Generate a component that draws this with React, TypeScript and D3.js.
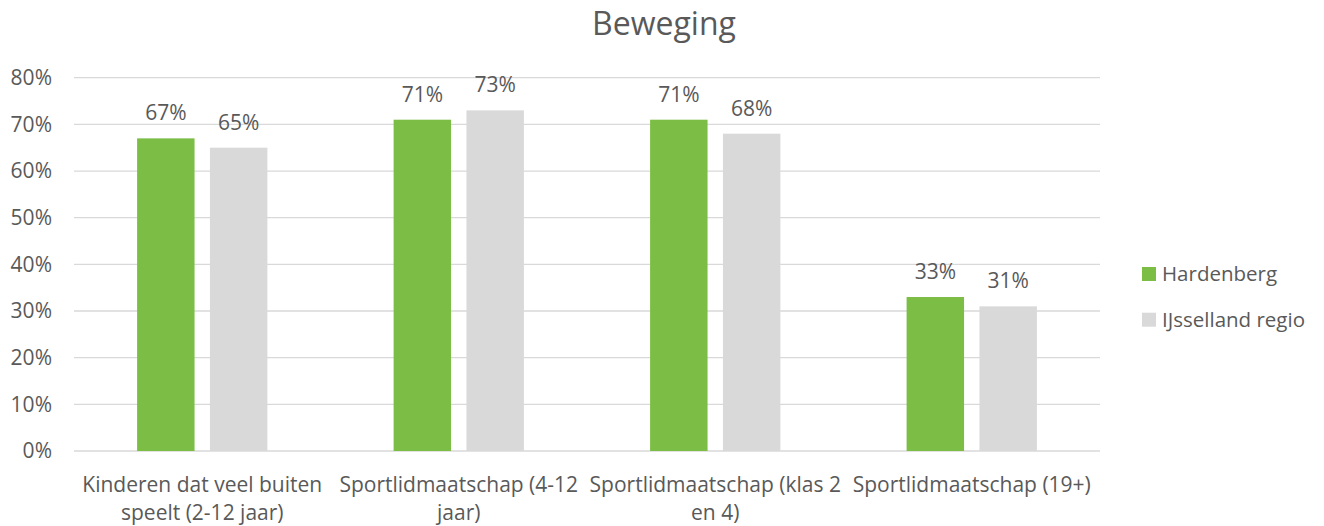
import React from "react";
import * as d3 from "d3";

const title = "Beweging";
const categories = [
  ["Kinderen dat veel buiten", "speelt (2-12 jaar)"],
  ["Sportlidmaatschap (4-12", "jaar)"],
  ["Sportlidmaatschap (klas 2", "en 4)"],
  ["Sportlidmaatschap (19+)"],
];
const seriesNames = ["Hardenberg", "IJsselland regio"];
const hardenberg = [67, 71, 71, 33];
const ijsselland = [65, 73, 68, 31];
const yTicks = [0, 10, 20, 30, 40, 50, 60, 70, 80];
const colors = ["#7CBD45", "#D9D9D9"];

export default function App() {
  const W = 1324, H = 526;
  const left = 74, right = 1100, top = 77.7, bottom = 451;
  const font = "'Open Sans', sans-serif";
  const text = "#595959";
  const x = d3.scaleBand<number>().domain(d3.range(categories.length)).range([left, right]).paddingInner(0).paddingOuter(0);
  const y = d3.scaleLinear().domain([0, 80]).range([bottom, top]);
  const bw = x.bandwidth() * 0.224;
  const gap = x.bandwidth() * 0.06;
  const series = [hardenberg, ijsselland];
  return (
    <svg width={W} height={H} style={{ position: "absolute", left: 0, top: 0, background: "#fff" }} fontFamily={font}>
      <rect width={W} height={H} fill="#fff" />
      <text x={664} y={35} textAnchor="middle" fontSize={32} fill={text}>{title}</text>
      {yTicks.map((t) => (
        <g key={t}>
          <line x1={left} x2={right} y1={y(t)} y2={y(t)} stroke="#D9D9D9" strokeWidth={1.3} />
          <text x={52} y={y(t)} dy="0.35em" textAnchor="end" fontSize={21} fill={text}>{t}%</text>
        </g>
      ))}
      {categories.map((lines, i) => {
        const c = (x(i) as number) + x.bandwidth() / 2;
        return (
          <g key={i}>
            {series.map((s, j) => {
              const bx = j === 0 ? c - gap / 2 - bw : c + gap / 2;
              return (
                <g key={j}>
                  <rect x={bx} y={y(s[i])} width={bw} height={y(0) - y(s[i])} fill={colors[j]} />
                  <text x={bx + bw / 2} y={y(s[i]) - 18} textAnchor="middle" fontSize={21} fill={text}>{s[i]}%</text>
                </g>
              );
            })}
            {lines.map((l, k) => (
              <text key={k} x={c} y={491.5 + k * 28.5} textAnchor="middle" fontSize={21} fill={text}>{l}</text>
            ))}
          </g>
        );
      })}
      {seriesNames.map((n, j) => (
        <g key={n}>
          <rect x={1142} y={267 + j * 45.7} width={14} height={14} fill={colors[j]} />
          <text x={1162} y={274 + j * 45.7} dy="0.35em" fontSize={20.5} fill={text}>{n}</text>
        </g>
      ))}
    </svg>
  );
}
